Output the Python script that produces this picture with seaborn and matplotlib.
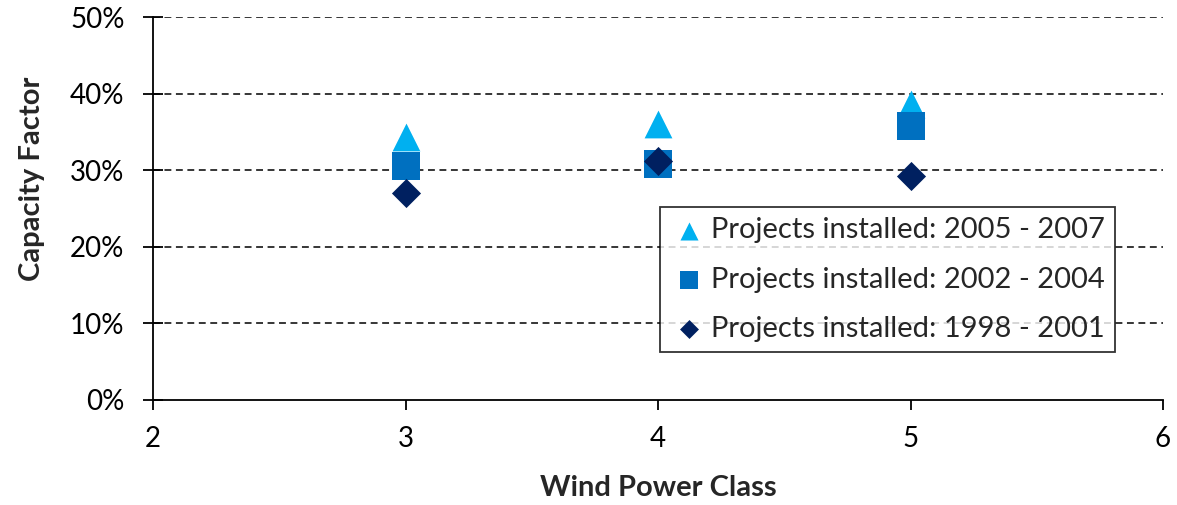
import matplotlib
matplotlib.use("Agg")
import matplotlib.pyplot as plt
import seaborn as sns
import pandas as pd
from matplotlib.ticker import PercentFormatter

# Data
wind_class = [3, 4, 5]
cf_2005_2007 = [0.343, 0.360, 0.386]
cf_2002_2004 = [0.305, 0.308, 0.358]
cf_1998_2001 = [0.270, 0.312, 0.292]
series_labels = ["Projects installed: 2005 - 2007",
                 "Projects installed: 2002 - 2004",
                 "Projects installed: 1998 - 2001"]
series_colors = ["#00B0F0", "#0070C0", "#002060"]
series_markers = ["^", "s", "D"]
x_ticks = [2, 3, 4, 5, 6]
y_ticks = [0, 0.1, 0.2, 0.3, 0.4, 0.5]

sns.set_theme(style="white")
plt.rcParams["font.family"] = ["Lato", "DejaVu Sans"]

fig = plt.figure(figsize=(11.77, 5.05), dpi=100)
ax = fig.add_axes([153/1177, 1 - 400/505, (1163-153)/1177, (400-17)/505])

series_values = [cf_2005_2007, cf_2002_2004, cf_1998_2001]
sizes = [400, 400, 220]
for vals, lab, col, mk, sz in zip(series_values, series_labels, series_colors, series_markers, sizes):
    df = pd.DataFrame({"x": wind_class, "y": vals})
    sns.scatterplot(data=df, x="x", y="y", ax=ax, marker=mk, color=col,
                    s=sz, linewidth=0, label=lab, zorder=3)

ax.set_xlim(2, 6)
ax.set_ylim(0, 0.5)
ax.set_xticks(x_ticks)
ax.set_yticks(y_ticks)
ax.yaxis.set_major_formatter(PercentFormatter(1.0, decimals=0))

for y in y_ticks[1:]:
    ax.axhline(y, color="black", linestyle=(0, (4.5, 3)), linewidth=1.1, zorder=1)

for s in ["top", "right"]:
    ax.spines[s].set_visible(False)
for s in ["left", "bottom"]:
    ax.spines[s].set_color("black")
    ax.spines[s].set_linewidth(1.3)

ax.tick_params(axis="y", direction="inout", length=15, width=1.3, color="black",
               labelsize=20, labelcolor="black", pad=13, left=True)
ax.tick_params(axis="x", direction="out", length=7, width=1.3, color="black",
               labelsize=20, labelcolor="black", pad=12, bottom=True)

ax.set_xlabel("Wind Power Class", fontsize=21, fontweight="bold")
ax.set_ylabel("Capacity Factor", fontsize=21, fontweight="bold")
ax.xaxis.set_label_coords(0.5, -0.196)
ax.yaxis.set_label_coords(-0.107, 0.577)

leg = ax.legend(loc="upper left", bbox_to_anchor=(0.502, 0.504), frameon=True,
                fancybox=False, edgecolor="black", fontsize=21, markerscale=0.65,
                handletextpad=0.1, borderpad=0.35, labelspacing=0.8,
                handlelength=1.3, borderaxespad=0)
leg.get_frame().set_linewidth(1.3)

fig.savefig("out.png", dpi=100)
